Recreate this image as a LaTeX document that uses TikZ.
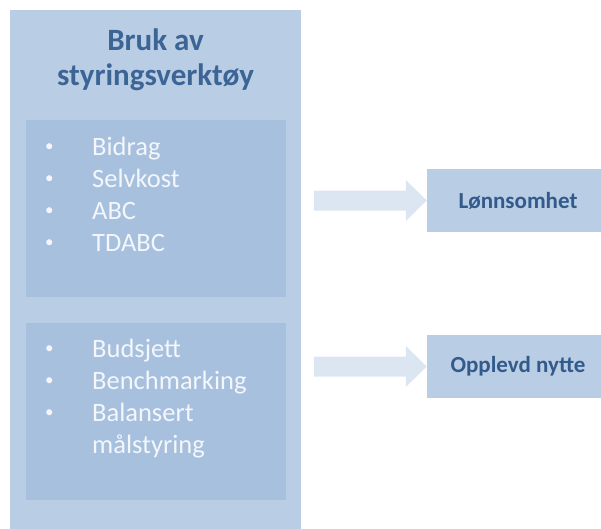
\documentclass[tikz,border=0pt]{standalone}
\usepackage{fontspec}
\setmainfont{Carlito}
\usepackage{xcolor}
\usetikzlibrary{calc}

\definecolor{boxblue}{HTML}{B9CDE5}
\definecolor{innerblue}{HTML}{A7C0DE}
\definecolor{arrowblue}{HTML}{DCE6F2}
\definecolor{titleblue}{HTML}{3C6494}
\definecolor{labelblue}{HTML}{325A8A}
\definecolor{listwhite}{HTML}{F3F6FB}

\newcommand{\dotmark}{\raisebox{3.4pt}{\fontsize{17}{17}\selectfont •}}

\begin{document}
\begin{tikzpicture}[x=1pt,y=-1pt,
  panel/.style={fill=boxblue,inner sep=0pt},
  subpanel/.style={fill=innerblue,inner sep=0pt,minimum width=260pt,minimum height=177pt},
  result/.style={fill=boxblue,inner sep=0pt,minimum width=182pt,minimum height=63pt,
    text=labelblue,font=\bfseries\fontsize{23}{28}\selectfont},
  listtext/.style={inner sep=0pt,text=listwhite,font=\fontsize{26.5}{32}\selectfont},
  blockarrow/.style={fill=arrowblue}]
\useasboundingbox (0,0) rectangle (601,528);

\node[panel,minimum width=291pt,minimum height=530pt] (tools) at (155.5,275) {};

\node[inner sep=0pt,anchor=base,align=center,text=titleblue,
  font=\bfseries\fontsize{31}{35}\selectfont] (title) at (155.5,85) {Bruk av\\styringsverktøy};

\node[subpanel] (costing) at (156,208.5) {};
\node[subpanel] (control) at (156,411.5) {};

\node[listtext,anchor=base west] (costlist) at (45,155)
  {\begin{tabular}[t]{@{}p{47pt}@{}l@{}}
  \dotmark & Bidrag\\
  \dotmark & Selvkost\\
  \dotmark & ABC\\
  \dotmark & TDABC
  \end{tabular}};

\node[listtext,anchor=base west] (ctrllist) at (45,357)
  {\begin{tabular}[t]{@{}p{47pt}@{}l@{}}
  \dotmark & Budsjett\\
  \dotmark & Benchmarking\\
  \dotmark & Balansert\\
    & målstyring
  \end{tabular}};

\node[result] (profit) at (518,200.5) {Lønnsomhet};
\node[result] (benefit) at (518,366.5) {Opplevd nytte};

\fill[blockarrow] ($(profit.west)+(-113,-10)$) -- ++(92,0) -- ++(0,-10.5) -- (profit.west)
  -- ++(-21,20.5) -- ++(0,-10.5) -- ++(-92,0) -- cycle;
\fill[blockarrow] ($(benefit.west)+(-113,-10)$) -- ++(92,0) -- ++(0,-10.5) -- (benefit.west)
  -- ++(-21,20.5) -- ++(0,-10.5) -- ++(-92,0) -- cycle;

\end{tikzpicture}
\end{document}
